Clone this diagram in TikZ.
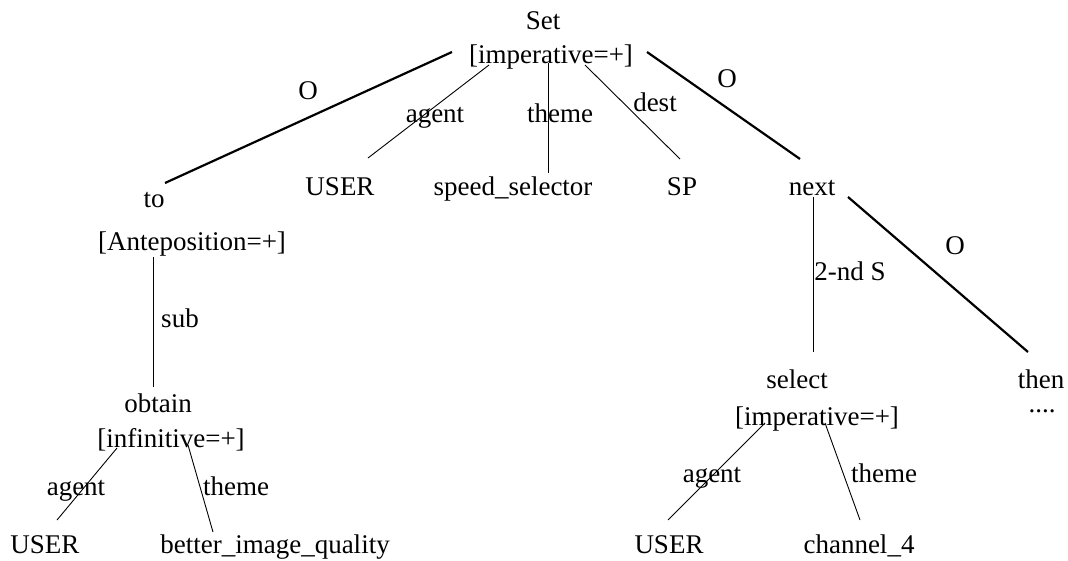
\documentclass[tikz,border=0pt]{standalone}
\usepackage{fontspec}
\setmainfont{Liberation Serif}
\begin{document}
\begin{tikzpicture}[x=1pt,y=-1pt,
  lbl/.style={anchor=base,inner sep=0pt,font=\fontsize{27}{32}\selectfont},
  thin/.style={line width=0.9pt},
  thick/.style={line width=2.2pt}]
\useasboundingbox (0,0) rectangle (1068,561);
% nodes
\node[lbl] (set) at (543,30) {Set};
\node[lbl] (imp) at (551,64) {[imperative=+]};
\node[lbl] (to) at (154,208) {to};
\node[lbl] (ante) at (192,251) {[Anteposition=+]};
\node[lbl] (user1) at (340,196) {USER};
\node[lbl] (speed) at (513,196) {speed\_selector};
\node[lbl] (sp) at (682,196) {SP};
\node[lbl] (next) at (812,196) {next};
\node[lbl] (obtain) at (158,412) {obtain};
\node[lbl] (infin) at (171,447) {[infinitive=+]};
\node[lbl] (user2) at (45,553) {USER};
\node[lbl] (better) at (275,553) {better\_image\_quality};
\node[lbl] (select) at (797,388) {select};
\node[lbl] (imp2) at (817,425) {[imperative=+]};
\node[lbl] (then) at (1041,388) {then};
\node[lbl] (dots) at (1042,412) {....};
\node[lbl] (user3) at (669,553) {USER};
\node[lbl] (chan) at (859,553) {channel\_4};
% labels
\node[lbl] (lO1) at (308,100) {O};
\node[lbl] (lagent1) at (435,123) {agent};
\node[lbl] (ltheme1) at (560,123) {theme};
\node[lbl] (ldest) at (655,112) {dest};
\node[lbl] (lO2) at (727,88) {O};
\node[lbl] (lsub) at (180,327) {sub};
\node[lbl] (lagent2) at (76,495) {agent};
\node[lbl] (ltheme2) at (236,495) {theme};
\node[lbl] (l2nd) at (850,280) {2-nd S};
\node[lbl] (lO3) at (955,255) {O};
\node[lbl] (lagent3) at (712,482) {agent};
\node[lbl] (ltheme3) at (884,482) {theme};
% connectors
\draw[thick] ([shift={(-99,-12)}]imp.base) -- ([shift={(11,-25)}]to.base);
\draw[thin] ([shift={(-62,1)}]imp.base) -- ([shift={(28,-38)}]user1.base);
\draw[thin] ([shift={(-3,-1)}]imp.base) -- ([shift={(35,-23)}]speed.base);
\draw[thin] ([shift={(34,1)}]imp.base) -- ([shift={(-2,-37)}]sp.base);
\draw[thick] ([shift={(96,-12)}]imp.base) -- ([shift={(-12,-37)}]next.base);
\draw[thin] ([shift={(-39,6)}]ante.base) -- ([shift={(-5,-25)}]obtain.base);
\draw[thin] ([shift={(-54,1)}]infin.base) -- ([shift={(12,-33)}]user2.base);
\draw[thin] ([shift={(17,-2)}]infin.base) -- ([shift={(-62,-21)}]better.base);
\draw[thin] ([shift={(1,1)}]next.base) -- ([shift={(16,-36)}]select.base);
\draw[thick] ([shift={(36,1)}]next.base) -- ([shift={(-13,-36)}]then.base);
\draw[thin] ([shift={(-52,-2)}]imp2.base) -- ([shift={(-1,-33)}]user3.base);
\draw[thin] ([shift={(8,-2)}]imp2.base) -- ([shift={(1,-33)}]chan.base);
\end{tikzpicture}
\end{document}
